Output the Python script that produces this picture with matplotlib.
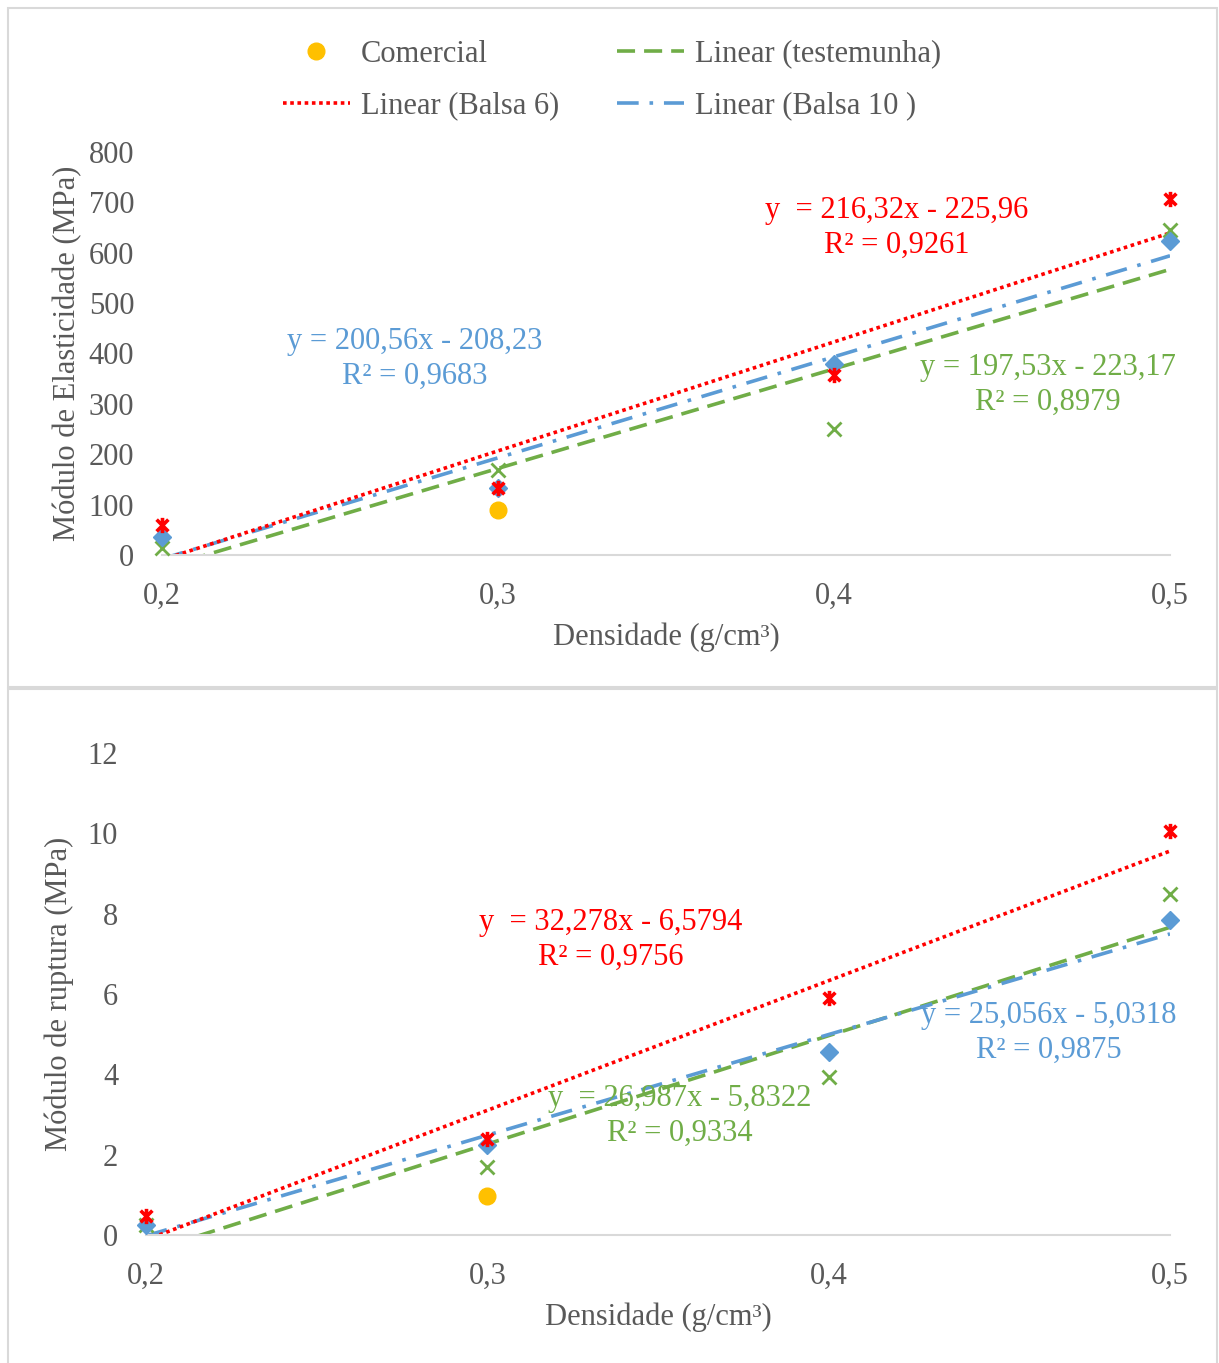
import matplotlib.pyplot as plt
import numpy as np
from matplotlib.path import Path
from matplotlib.patches import Rectangle

plt.rcParams['font.family'] = ['Liberation Serif', 'DejaVu Serif']

# ---- data ----
densidade = [0.2, 0.3, 0.4, 0.5]
densidade_labels = ['0,2', '0,3', '0,4', '0,5']

# Modulo de elasticidade (MPa)
moe_balsa6 = [60, 133, 357, 706]
moe_testemunha = [14, 169, 250, 645]
moe_balsa10 = [36, 133, 379, 623]
moe_comercial = [np.nan, 89, np.nan, np.nan]
# Excel trend lines, x = category index (1..4)
moe_coef = {'Balsa 6': (216.32, -225.96), 'testemunha': (197.53, -223.17), 'Balsa 10': (200.56, -208.23)}

# Modulo de ruptura (MPa)
mor_balsa6 = [0.47, 2.39, 5.9, 10.05]
mor_testemunha = [0.25, 1.69, 3.93, 8.5]
mor_balsa10 = [0.25, 2.24, 4.55, 7.85]
mor_comercial = [np.nan, 0.97, np.nan, np.nan]
# trend lines, x = densidade
mor_coef = {'Balsa 6': (32.278, -6.5794), 'testemunha': (26.987, -5.8322), 'Balsa 10': (25.056, -5.0318)}

RED = '#FF0000'
GREEN = '#70AD47'
BLUE = '#5B9BD5'
YELLOW = '#FFC000'
GRAY = '#595959'

star = Path([(-1, -1), (1, 1), (-1, 1), (1, -1), (0, -1.3), (0, 1.3)],
            [Path.MOVETO, Path.LINETO, Path.MOVETO, Path.LINETO, Path.MOVETO, Path.LINETO])

W, H = 1219, 1363
fig = plt.figure(figsize=(W / 100, H / 100), dpi=100)

# panel frames
fig.patches.append(Rectangle((8 / W, 1 - 687 / H), 1209 / W, 679 / H, transform=fig.transFigure,
                             fill=False, edgecolor='#d9d9d9', linewidth=1.5))
fig.patches.append(Rectangle((8 / W, -0.01), 1209 / W, 1 - 689 / H + 0.01, transform=fig.transFigure,
                             fill=False, edgecolor='#d9d9d9', linewidth=1.5))

ax1 = fig.add_axes([162 / W, 1 - 555 / H, 1008 / W, 403 / H])
ax2 = fig.add_axes([146 / W, 1 - 1235 / H, 1024 / W, 482 / H])

x = np.array(densidade)
xx = np.linspace(0.2, 0.5, 200)


def draw(ax, balsa6, test, balsa10, com, coef, use_index):
    xl = (xx - 0.1) / 0.1 if use_index else xx
    a, b = coef['testemunha']
    l_test, = ax.plot(xx, a * xl + b, color=GREEN, lw=2.6, ls=(0, (5, 2.5)), label='Linear (testemunha)')
    a, b = coef['Balsa 10']
    l_b10, = ax.plot(xx, a * xl + b, color=BLUE, lw=2.6, ls=(0, (6, 3, 1, 3)), label='Linear (Balsa 10 )')
    a, b = coef['Balsa 6']
    l_b6, = ax.plot(xx, a * xl + b, color=RED, lw=2.6, ls=(0, (1, 1)), label='Linear (Balsa 6)')
    ax.plot(x, test, ls='none', marker='x', ms=10, mew=2, color=GREEN, clip_on=False, zorder=5)
    ax.plot(x, balsa10, ls='none', marker='D', ms=9, color=BLUE, clip_on=False, zorder=6)
    ax.plot(x, balsa6, ls='none', marker=star, ms=11, mew=2.6, color=RED, fillstyle='none',
            clip_on=False, zorder=7)
    s_com, = ax.plot(x, com, ls='none', marker='o', ms=12, color=YELLOW, clip_on=False, zorder=8,
                     label='Comercial')
    ax.set_xlim(0.2, 0.5)
    ax.set_xticks(x)
    ax.set_xticklabels(densidade_labels)
    for s in ['top', 'right', 'left']:
        ax.spines[s].set_visible(False)
    ax.spines['bottom'].set_color('#d9d9d9')
    ax.spines['bottom'].set_linewidth(1.5)
    ax.tick_params(axis='both', length=0, labelsize=22, colors=GRAY)
    ax.tick_params(axis='x', pad=19)
    ax.tick_params(axis='y', pad=20)
    ax.set_xlabel('Densidade (g/cm³)', fontsize=22, color=GRAY, labelpad=9)
    return s_com, l_b6, l_test, l_b10


handles = draw(ax1, moe_balsa6, moe_testemunha, moe_balsa10, moe_comercial, moe_coef, True)
ax1.set_ylim(0, 800)
ax1.set_yticks(range(0, 801, 100))
ax1.set_ylabel('Módulo de Elasticidade (MPa)', fontsize=22, color=GRAY, labelpad=5)

draw(ax2, mor_balsa6, mor_testemunha, mor_balsa10, mor_comercial, mor_coef, False)
ax2.set_ylim(0, 12)
ax2.set_yticks(range(0, 13, 2))
ax2.set_ylabel('Módulo de ruptura (MPa)', fontsize=22, color=GRAY, labelpad=10)

leg = fig.legend(handles, [h.get_label() for h in handles], ncol=2, loc='upper center',
                 bbox_to_anchor=(612 / W, 1 - 12 / H), frameon=False, fontsize=22,
                 handlelength=2.2, handletextpad=0.35, columnspacing=1.9, labelspacing=0.75)
for t in leg.get_texts():
    t.set_color(GRAY)


def eq(xp, yp, txt, color):
    fig.text(xp / W, 1 - yp / H, txt, color=color, fontsize=22, ha='center', va='center',
             multialignment='center', linespacing=1.3)


eq(897, 228, 'y  = 216,32x - 225,96\nR² = 0,9261', RED)
eq(415, 359, 'y = 200,56x - 208,23\nR² = 0,9683', BLUE)
eq(1048, 385, 'y = 197,53x - 223,17\nR² = 0,8979', GREEN)
eq(611, 940, 'y  = 32,278x - 6,5794\nR² = 0,9756', RED)
eq(680, 1116, 'y  = 26,987x - 5,8322\nR² = 0,9334', GREEN)
eq(1049, 1033, 'y = 25,056x - 5,0318\nR² = 0,9875', BLUE)

fig.savefig('out.png', dpi=100)
